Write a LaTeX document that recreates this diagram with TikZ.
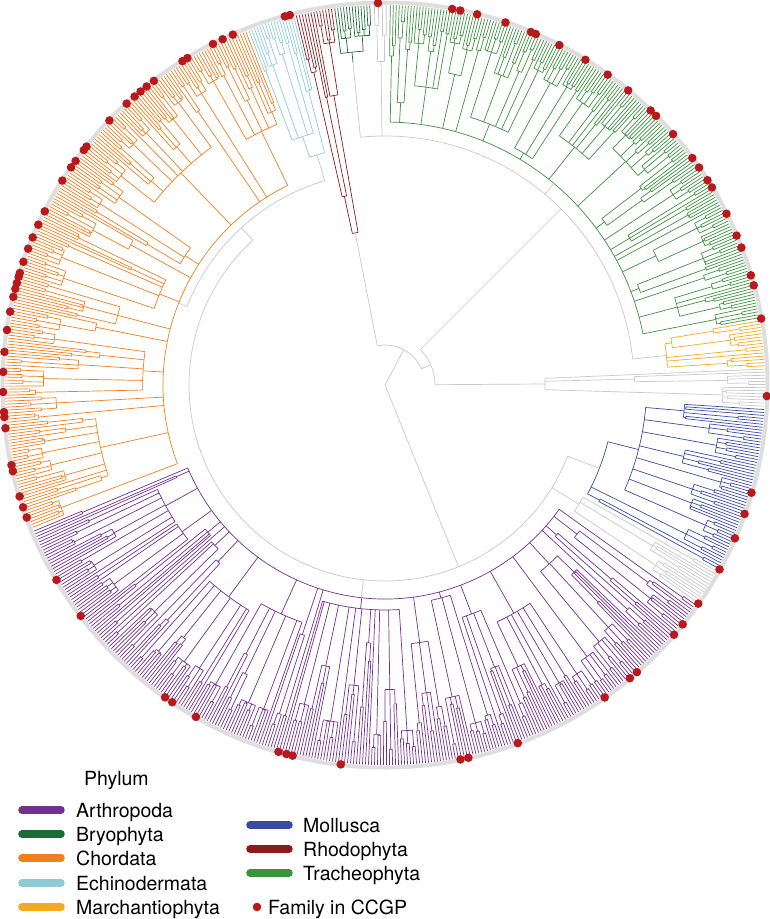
\documentclass[tikz,border=0pt]{standalone}
\usepackage{fontspec}
\setmainfont{TeX Gyre Heros}
\usetikzlibrary{positioning}

\definecolor{arthcol}{HTML}{73308F}
\definecolor{bryocol}{HTML}{1D6B35}
\definecolor{chordcol}{HTML}{EE8020}
\definecolor{echicol}{HTML}{8FCBD5}
\definecolor{marchcol}{HTML}{F4AA1C}
\definecolor{mollcol}{HTML}{3B4BA0}
\definecolor{rhodocol}{HTML}{8C1C1C}
\definecolor{trachcol}{HTML}{3E9140}
\definecolor{ccgpcol}{HTML}{B8191C}
\definecolor{backcol}{HTML}{C8C8C8}

\tikzset{
  branch/.style={line width=.7pt},
  legbar/.style={line width=7.5pt,line cap=round},
  legtext/.style={anchor=base west,inner sep=0pt,font=\fontsize{19.5}{22}\selectfont},
  ccgpdot/.style={fill=ccgpcol},
}

% one phylum as a random subtree
\newcount\tipsleft
\newcount\ntip
\newcount\ngroups
\newcommand\cladeloop{%
  \ifnum\sgopen=0
    \pgfmathsetmacro\rs{\cladeR+6+\cladespread*rnd}%
    \def\sgopen{1}\ngroups=0
    \let\sga\relax
  \fi
  \pgfmathrandominteger{\nt}{1}{7}%
  \ntip=\nt\relax
  \ifnum\ntip>\tipsleft \ntip=\tipsleft\fi
  \edef\ntips{\the\ntip}%
  \pgfmathsetmacro\rg{max(\rs+6,350-(344-\rs)*rnd*rnd)}%
  \pgfmathtruncatemacro\npairs{(\ntips+1)/2}%
  \foreach \k in {1,...,\npairs}{%
    \pgfmathsetmacro\ta{\cura+(2*\k-2)*\tipstep}%
    \pgfmathtruncatemacro\solo{2*\k>\ntips}%
    \ifnum\solo=1
      \draw[branch,color=\cladecol] (\ta:\rg) -- (\ta:380);
    \else
      \pgfmathsetmacro\tb{\ta+\tipstep}%
      \pgfmathsetmacro\tm{\ta+0.5*\tipstep}%
      \pgfmathsetmacro\rp{\rg+(366-\rg)*rnd}%
      \draw[branch,color=\cladecol] (\ta:380) -- (\ta:\rp) arc[start angle=\ta,end angle=\tb,radius=\rp] -- (\tb:380);
      \draw[branch,color=\cladecol] (\tm:\rg) -- (\tm:\rp);
    \fi
  }%
  \pgfmathsetmacro\ga{\cura+(\ntips>1)*0.5*\tipstep}%
  \pgfmathsetmacro\gb{\cura+(2*\npairs-2+\ntips-1)/2*\tipstep}%
  \ifnum\npairs>1
    \draw[branch,color=\cladecol] (\ga:\rg) arc[start angle=\ga,end angle=\gb,radius=\rg];
  \fi
  \pgfmathsetmacro\gm{(\ga+\gb)/2}%
  \draw[branch,color=\cladecol] (\gm:\rs) -- (\gm:\rg);
  \ifx\sga\relax\let\sga\gm\fi
  \let\sgb\gm
  \advance\ngroups by 1
  \advance\tipsleft by -\ntip
  \pgfmathsetmacro\cura{\cura+\ntips*\tipstep}%
  \pgfmathrandominteger{\cl}{1}{3}%
  \ifnum\tipsleft=0 \def\cl{1}\fi
  \ifnum\cl=1
    \ifnum\ngroups>1
      \draw[branch,color=\cladecol] (\sga:\rs) arc[start angle=\sga,end angle=\sgb,radius=\rs];
    \fi
    \pgfmathsetmacro\sm{(\sga+\sgb)/2}%
    \draw[branch,color=\cladecol] (\sm:\cladeR) -- (\sm:\rs);
    \ifx\cfirst\relax\let\cfirst\sm\fi
    \let\clast\sm
    \def\sgopen{0}%
  \fi
  \ifnum\tipsleft>0 \expandafter\cladeloop\fi}

% #1 colour, #2 first tip angle, #3 last tip angle, #4 tips,
% #5 clade radius, #6 stem start radius, #7 spread
\newcommand\drawclade[7]{%
  \def\cladecol{#1}\def\cladeR{#5}\def\cladespread{#7}%
  \pgfmathsetmacro\tipstep{(#3-#2)/(#4-1)}%
  \tipsleft=#4\relax
  \def\cura{#2}\def\sgopen{0}\let\cfirst\relax
  \cladeloop
  \ifx\cfirst\clast\else
    \draw[branch,color=#1] (\cfirst:#5) arc[start angle=\cfirst,end angle=\clast,radius=#5];
  \fi
  \pgfmathsetmacro\cmid{(\cfirst+\clast)/2}%
  \draw[branch,color=backcol] (\cmid:#6) -- (\cmid:#5);
}

\begin{document}
\begin{tikzpicture}[x=1pt,y=1pt]
\useasboundingbox (-385,385) rectangle (384,-534);
\pgfmathsetseed{11}

% outer ring
\draw[line width=4pt,color=black!13] (0,0) circle[radius=382.5];

% phyla
\drawclade{arthcol}{-157.4}{-35.3}{270}{214}{196}{45}\let\midArth\cmid
\drawclade{backcol}{-34.8}{-29.3}{13}{205}{196}{60}\let\midGrayB\cmid
\drawclade{mollcol}{-28.8}{-3.7}{57}{230}{196}{50}\let\midMoll\cmid
\drawclade{backcol}{-3.2}{2.4}{13}{160}{50}{120}\let\midGrayA\cmid
\drawclade{marchcol}{2.9}{9.7}{15}{283}{249}{30}\let\midMarch\cmid
\drawclade{trachcol}{10.2}{89.2}{176}{263}{249}{60}\let\midTrach\cmid
\drawclade{backcol}{89.8}{91.6}{4}{300}{249}{20}\let\midGrayC\cmid
\drawclade{bryocol}{92.3}{97.6}{13}{324}{249}{12}\let\midBryo\cmid
\drawclade{rhodocol}{98.1}{103.5}{13}{155}{40}{140}\let\midRhodo\cmid
\drawclade{echicol}{103.9}{111.0}{17}{240}{213}{40}\let\midEchi\cmid
\drawclade{chordcol}{111.5}{202.0}{200}{222}{213}{70}\let\midChord\cmid

% backbone
\pgfmathsetmacro\midE{(\midEchi+\midChord)/2}
\pgfmathsetmacro\endA{\midMoll+360}
\draw[branch,color=backcol] (\midEchi:213) arc[start angle=\midEchi,end angle=\midChord,radius=213];
\draw[branch,color=backcol] (\midE:196) -- (\midE:213);
\draw[branch,color=backcol] (\midE:196) arc[start angle=\midE,end angle=\endA,radius=196];
\draw[branch,color=backcol] (0,0) -- (-68:196);
\draw[branch,color=backcol] (0,0) -- (62:40);
\draw[branch,color=backcol] (24:40) arc[start angle=24,end angle=\midRhodo,radius=40];
\draw[branch,color=backcol] (24:40) -- (24:50);
\draw[branch,color=backcol] (\midGrayA:50) arc[start angle=\midGrayA,end angle=45,radius=50];
\draw[branch,color=backcol] (45:50) -- (45:249);
\draw[branch,color=backcol] (\midMarch:249) arc[start angle=\midMarch,end angle=\midBryo,radius=249];

% families in CCGP
\foreach \x/\y in {378/5,452/10,460/12,477/15,506/21,533/27,538/29,562/40,589/54,611/70,
  631/87,655/106,660/112,672/135,691/159,697/169,711/178,716/185,730/212,738/235,743/247,
  752/275,755/285,759/319,764/396,749/492,742/513,732/537,717/568,696/602,681/623,672/633,
  635/670,628/676,603/695,517/741,468/756,460/757,341/762,279/750,287/752,293/754,197/715,
  166/696,173/701,82/615,58/579,28/517,24/507,21/496,14/471,12/465,7/428,5/417,5/412,
  4/392,5/372,6/352,7/330,12/312,14/297,16/289,17/283,19/277,20/273,24/262,29/249,34/238,
  39/225,46/212,63/181,72/168,77/162,85/151,87/147,110/121,127/104,135/97,141/92,147/87,
  154/81,183/62,188/59,213/44,223/40,233/35,285/17,290/16}{
  \pgfmathsetmacro\da{atan2(385-\y,\x-385)}
  \fill[ccgpdot] (\da:382) circle[radius=4.3];
}

% legend
\begin{scope}[shift={(-385,385)},yscale=-1]
\node[legtext] (phylum) at (84,785) {Phylum};
\draw[legbar,arthcol] (22,810) -- (61,810);
\node[legtext] (legArth) at (76,817) {Arthropoda};
\draw[legbar,bryocol] (22,834) -- (61,834);
\node[legtext] (legBryo) at (76,841) {Bryophyta};
\draw[legbar,chordcol] (22,858) -- (61,858);
\node[legtext] (legChord) at (76,865) {Chordata};
\draw[legbar,echicol] (22,883) -- (61,883);
\node[legtext] (legEchi) at (76,890) {Echinodermata};
\draw[legbar,marchcol] (22,907) -- (61,907);
\node[legtext] (legMarch) at (76,914) {Marchantiophyta};
\draw[legbar,mollcol] (250,825) -- (289,825);
\node[legtext] (legMoll) at (303,832) {Mollusca};
\draw[legbar,rhodocol] (250,849) -- (289,849);
\node[legtext] (legRhodo) at (303,856) {Rhodophyta};
\draw[legbar,trachcol] (250,873) -- (289,873);
\node[legtext] (legTrach) at (303,880) {Tracheophyta};
\fill[ccgpdot] (257,907) circle[radius=4.3];
\node[legtext] (legCCGP) at (268,914) {Family in CCGP};
\end{scope}
\end{tikzpicture}
\end{document}
